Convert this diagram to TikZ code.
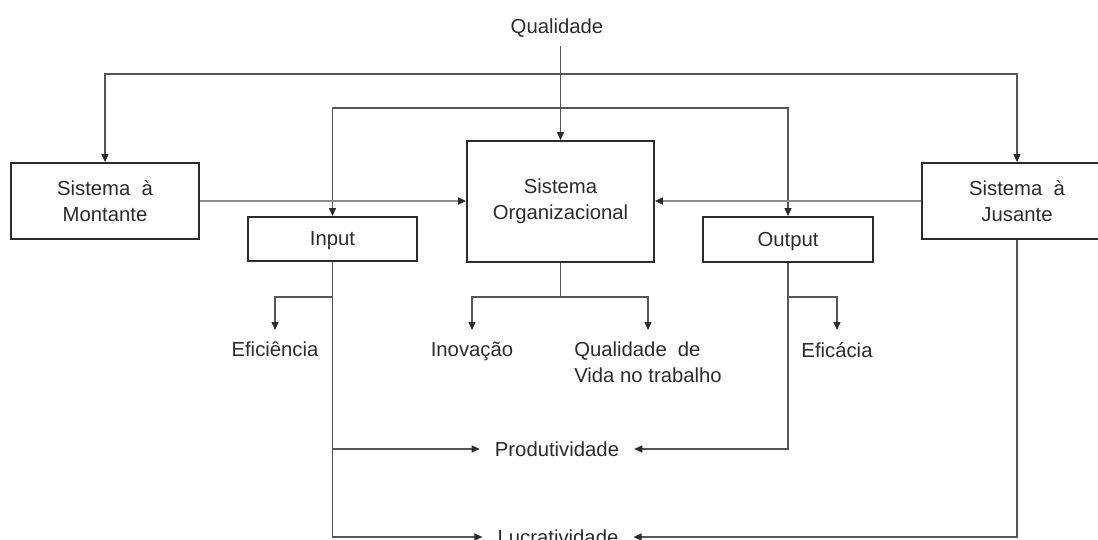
\documentclass[tikz,border=0pt]{standalone}
\usepackage{fontspec}
\setmainfont{Liberation Sans}
\usetikzlibrary{arrows.meta}
\definecolor{ink}{HTML}{2B2B2B}
\definecolor{wire}{HTML}{555555}
\definecolor{wirelight}{HTML}{8C8C8C}
% wider word gap, as in the justified labels
\newcommand{\gapsp}{\hspace{0.55em}}
\begin{document}
\begin{tikzpicture}[x=1pt,y=-1pt,
  every node/.style={font=\fontsize{20.3}{25.5}\selectfont, text=ink},
  sysbox/.style={draw=ink, line width=1.8pt, align=center, inner sep=0pt},
  lbl/.style={inner xsep=1pt, inner ysep=0pt, align=center},
  below lbl/.style={lbl, anchor=north, inner ysep=12pt},
  flow/.style={draw=wire, line width=1.2pt, -{Triangle[length=8pt,width=7pt,color=ink]}},
  feed/.style={flow, draw=wirelight, line width=1.8pt}
]
\clip (0,0) rectangle (1098,540);
\fill[white] (0,0) rectangle (1098,540);

% systems
\node[sysbox, minimum width=188pt, minimum height=76pt] (mont) at (105,201) {Sistema\gapsp à\\Montante};
\node[sysbox, minimum width=169pt, minimum height=44pt, text depth=0pt] (inp) at (332.5,239) {Input};
\node[sysbox, minimum width=187pt, minimum height=121pt] (sys) at (560.5,201.5) {Sistema\\Organizacional};
\node[sysbox, minimum width=170pt, minimum height=45pt, text depth=0pt] (outp) at (788,239.5) {Output};
\node[sysbox, minimum width=190pt, minimum height=76pt] (jus) at (1017,201) {Sistema\gapsp à\\Jusante};

% criteria
\node[lbl, inner ysep=9pt] (qual) at (557,28) {Qualidade};
\node[below lbl] (efic) at (275,330) {Eficiência};
\node[below lbl] (inov) at (472,330) {Inovação};
\node[below lbl, align=left] (qvt) at (648,330) {Qualidade\gapsp de\\Vida no trabalho};
\node[below lbl] (efica) at (837,330) {Eficácia};
\node[lbl, inner xsep=15pt] (prod) at (557,449) {Produtividade};
\node[lbl, inner xsep=15pt] (lucr) at (558,537) {Lucratividade};

% junction rails
\coordinate (ring1) at (561,74);
\coordinate (ring2) at (561,108);
\coordinate (split) at (0,297);

% connectors
\draw[flow] (qual.south -| sys.north) -- (sys.north);
\draw[flow] (ring1) -| (mont.north);
\draw[flow] (ring1) -| (jus.north);
\draw[flow] (ring2) -| (inp.north);
\draw[flow] (ring2) -| (outp.north);
\draw[feed] (mont.east) -- (mont.east -| sys.west);
\draw[feed] (jus.west) -- (jus.west -| sys.east);

\draw[flow] (inp.south) |- (lucr.west);
\draw[flow] (inp.south |- prod.west) -- (prod.west);
\draw[flow] (inp.south |- split) -| (efic.north);

\draw[flow] (sys.south) -- (sys.south |- split) -| (inov.north);
\draw[flow] (sys.south |- split) -| (qvt.north);

\draw[flow] (outp.south) |- (prod.east);
\draw[flow] (outp.south |- split) -| (efica.north);

\draw[flow] (jus.south) |- (lucr.east);
\end{tikzpicture}
\end{document}
